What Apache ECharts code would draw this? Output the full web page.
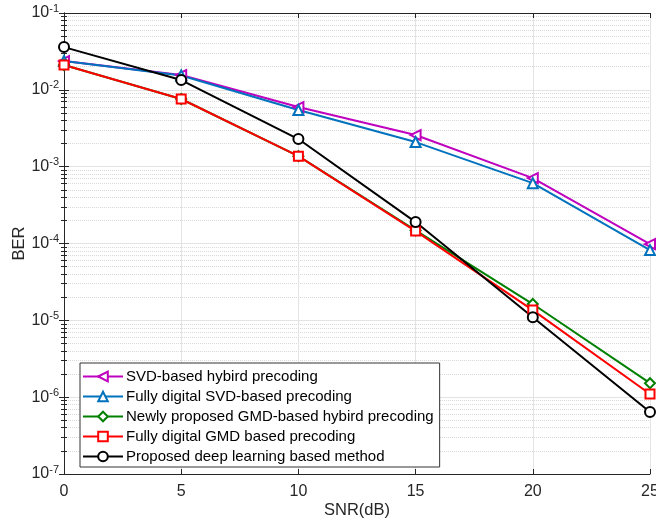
<!DOCTYPE html>
<html>
<head>
<meta charset="utf-8">
<script src="https://cdn.jsdelivr.net/npm/echarts@6/dist/echarts.min.js"></script>
<style>html,body{margin:0;padding:0;background:#fff}#c{width:656px;height:520px}</style>
</head>
<body>
<div id="c"></div>
<script>
var snr = [0, 5, 10, 15, 20, 25];
var svdHybrid = [0.0237, 0.0156, 0.00597, 0.00258, 0.00071, 0.000098];
var svdDigital = [0.0237, 0.0154, 0.00546, 0.00209, 0.00061, 0.000082];
var gmdHybrid = [0.021, 0.0076, 0.00137, 0.000148, 0.0000163, 0.00000152];
var gmdDigital = [0.021, 0.0076, 0.00137, 0.000145, 0.0000136, 0.0000011];
var deepLearning = [0.036, 0.0134, 0.00229, 0.00019, 0.000011, 0.00000064];
var seriesNames = ['SVD-based hybird precoding', 'Fully digital SVD-based precoding', 'Newly proposed GMD-based hybird precoding', 'Fully digital GMD based precoding', 'Proposed deep learning based method'];

function pairs(ys) { return snr.map(function (x, i) { return [x, ys[i]]; }); }
var font = 'Liberation Sans, Arial, sans-serif';

function mk(name, data, color, symbol, rot, size) {
  return {
    name: name, type: 'line', data: pairs(data), symbol: symbol, symbolSize: size || 9,
    symbolRotate: rot || 0,
    lineStyle: { color: color, width: 2 },
    itemStyle: { color: color, borderColor: color, borderWidth: 1.6 },
    emphasis: { disabled: true }, z: 5
  };
}

var chart = echarts.init(document.getElementById('c'));
chart.setOption({
  animation: false,
  backgroundColor: '#fff',
  grid: { left: 64, right: 6, top: 13, bottom: 46, containLabel: false, outerBoundsMode: 'none' },
  xAxis: [{
    type: 'value', min: 0, max: 25, interval: 5,
    name: 'SNR(dB)', nameLocation: 'middle', nameGap: 28, nameMoveOverlap: false,
    nameTextStyle: { fontFamily: font, fontSize: 16.5, color: '#262626' },
    axisLine: { lineStyle: { color: '#262626', width: 1 } },
    axisTick: { inside: true, length: 5, lineStyle: { color: '#262626' } },
    axisLabel: { fontFamily: font, fontSize: 16, color: '#262626', margin: 10 },
    splitLine: { show: true, lineStyle: { color: '#e3e3e3', width: 1 } }
  }, {
    type: 'value', min: 0, max: 25, interval: 5, position: 'top',
    axisLine: { show: true, onZero: false, lineStyle: { color: '#262626', width: 1 } },
    axisTick: { inside: true, length: 5, lineStyle: { color: '#262626' } },
    axisLabel: { show: false }, splitLine: { show: false }
  }],
  yAxis: [{
    type: 'log', logBase: 10, min: 1e-7, max: 1e-1,
    name: 'BER', nameLocation: 'middle', nameGap: 36, nameMoveOverlap: false,
    nameTextStyle: { fontFamily: font, fontSize: 16.5, color: '#262626' },
    axisLine: { show: true, lineStyle: { color: '#262626', width: 1 } },
    axisTick: { show: true, inside: true, length: 5, lineStyle: { color: '#262626' } },
    minorTick: { show: true, splitNumber: 9, length: 3, lineStyle: { color: '#262626' } },
    minorSplitLine: { show: true, lineStyle: { color: '#d9d9d9', width: 1, type: 'dotted' } },
    axisLabel: {
      margin: 5,
      formatter: function (v) { return '{b|10}{s|' + Math.round(Math.log10(v)) + '}'; },
      rich: {
        b: { fontFamily: font, fontSize: 16, color: '#262626' },
        s: { fontFamily: font, fontSize: 11, color: '#262626', padding: [0, 0, 9, 0] }
      }
    },
    splitLine: { show: true, lineStyle: { color: '#e3e3e3', width: 1 } }
  }, {
    type: 'log', logBase: 10, min: 1e-7, max: 1e-1, position: 'right',
    axisLine: { show: true, lineStyle: { color: '#262626', width: 1 } },
    axisTick: { show: true, inside: true, length: 5, lineStyle: { color: '#262626' } },
    minorTick: { show: true, splitNumber: 9, length: 3, lineStyle: { color: '#262626' } },
    axisLabel: { show: false }, splitLine: { show: false }
  }],
  legend: {
    data: seriesNames, orient: 'vertical', left: 80, top: 363,
    itemWidth: 40, itemHeight: 12, itemGap: 5,
    padding: [6, 6, 3, 2],
    borderColor: '#333', borderWidth: 1, backgroundColor: '#fff',
    textStyle: { fontFamily: font, fontSize: 15, color: '#000', padding: [0, 0, 0, -2] }
  },
  series: [
    mk(seriesNames[0], svdHybrid, '#bf00bf', 'emptyTriangle', 90, 10),
    mk(seriesNames[1], svdDigital, '#0072bd', 'emptyTriangle', 0, 10),
    mk(seriesNames[2], gmdHybrid, '#008000', 'emptyDiamond', 0, 10),
    mk(seriesNames[3], gmdDigital, '#ff0000', 'emptyRect', 0, 9),
    mk(seriesNames[4], deepLearning, '#000000', 'emptyCircle', 0, 10)
  ]
});
</script>
</body>
</html>
